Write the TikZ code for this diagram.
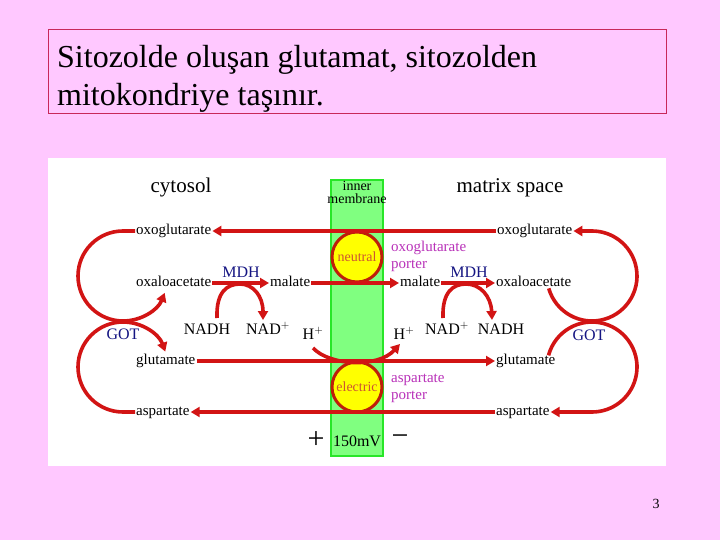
\documentclass[tikz,border=0pt]{standalone}
\usepackage{fontspec}
\setmainfont{Liberation Serif}
\usetikzlibrary{arrows.meta,calc}
\definecolor{bgpink}{RGB}{255,200,255}
\definecolor{boxborder}{RGB}{200,40,90}
\definecolor{redline}{RGB}{210,20,20}
\definecolor{circborder}{RGB}{190,30,10}
\definecolor{memfill}{RGB}{128,255,128}
\definecolor{memborder}{RGB}{40,230,40}
\definecolor{ylw}{RGB}{255,255,0}
\definecolor{porttext}{RGB}{185,50,185}
\definecolor{circtext}{RGB}{205,85,50}
\definecolor{enzyme}{RGB}{20,20,130}
\begin{document}
\begin{tikzpicture}[x=1pt,y=-1pt,
  lbl/.style={font=\fontsize{15}{17}\selectfont, inner xsep=1pt, inner ysep=0pt, text height=10.5pt, text depth=3.75pt},
  cof/.style={font=\fontsize{16}{18}\selectfont, inner sep=0pt},
  enz/.style={font=\fontsize{16}{18}\selectfont, inner sep=0pt, text=enzyme},
  head/.style={font=\fontsize{21}{24}\selectfont, inner sep=0pt},
  porter/.style={font=\fontsize{15}{17}\selectfont, inner sep=0pt, text=porttext, align=left, anchor=west},
  transporter/.style={circle, draw=circborder, fill=ylw, line width=3pt, minimum size=50pt, inner sep=0pt, font=\fontsize{14}{16}\selectfont, text=circtext},
  rl/.style={draw=redline, line width=3.6pt},
  tip/.style={-{Triangle[length=9pt,width=10pt]}}
]
\useasboundingbox (0,0) rectangle (720,540);
\fill[bgpink] (0,0) rectangle (720,540);
% title box
\draw[boxborder, line width=1pt, fill=bgpink] (48,30) rectangle (666,114);
\node[anchor=base west, inner sep=0pt, font=\fontsize{32}{38}\selectfont] (t1) at (57,68) {Sitozolde oluşan glutamat, sitozolden};
\node[anchor=base west, inner sep=0pt, font=\fontsize{32}{38}\selectfont] (t2) at (57,106) {mitokondriye taşınır.};
% white panel
\fill[white] (48,158) rectangle (666,466);
% membrane
\draw[memborder, line width=2.5pt, fill=memfill] (331,180) rectangle (383,456);
\node[font=\fontsize{14}{13}\selectfont, align=center, inner sep=0pt] (mem) at (357,192) {inner\\membrane};
\node[head] (cyt) at (181,187) {cytosol};
\node[head] (mat) at (510,188) {matrix space};
% transporters
\node[transporter] (neu) at (357,257) {neutral};
\node[transporter] (ele) at (357,387) {electric};
% metabolite labels
\node[lbl, anchor=west] (oxL) at (135,231) {oxoglutarate};
\node[lbl, anchor=west] (oxR) at (496,231) {oxoglutarate};
\node[lbl, anchor=west] (oaL) at (135,283) {oxaloacetate};
\node[lbl, anchor=west] (malL) at (269,283) {malate};
\node[lbl, anchor=west] (malR) at (399,283) {malate};
\node[lbl, anchor=west] (oaR) at (495,283) {oxaloacetate};
\node[lbl, anchor=west] (gluL) at (135,361) {glutamate};
\node[lbl, anchor=west] (gluR) at (495,361) {glutamate};
\node[lbl, anchor=west] (aspL) at (135,412) {aspartate};
\node[lbl, anchor=west] (aspR) at (495,412) {aspartate};
% enzymes and cofactors
\node[enz] (mdhL) at (241,272) {MDH};
\node[enz] (mdhR) at (469,272) {MDH};
\node[enz] (gotL) at (123,334) {GOT};
\node[enz] (gotR) at (589,335) {GOT};
\node[cof] (nadhL) at (207,329) {NADH};
\node[cof] (nadL) at (268,328) {NAD$^+$};
\node[cof] (hL) at (313,333) {H$^+$};
\node[cof] (hR) at (404,333) {H$^+$};
\node[cof] (nadR) at (447,328) {NAD$^+$};
\node[cof] (nadhR) at (501,329) {NADH};
% porter labels
\node[porter] (p1) at (391,256) {oxoglutarate\\porter};
\node[porter] (p2) at (391,388) {aspartate\\porter};
% potential
\node[inner sep=0pt, font=\fontsize{30}{30}\selectfont] (plus) at (316,440) {+};
\node[cof] (mv) at (357,441) {150mV};
\node[inner sep=0pt, font=\fontsize{30}{30}\selectfont] (minus) at (400,440) {−};
\node[inner sep=0pt, font=\fontsize{14}{16}\selectfont] (pg) at (656,504) {3};
% straight connectors
\draw[rl, tip] (oxR.west) -- (oxL.east);
\draw[rl, tip] (malL.east) -- (malR.west);
\draw[rl, tip] (gluL.east) -- (gluR.west);
\draw[rl, tip] (aspR.west) -- (aspL.east);
\draw[rl, tip] (oaL.east) -- (malL.west);
\draw[rl, tip] (malR.east) -- (oaR.west);
% MDH loops
\coordinate (m1a) at (217,318);
\coordinate (m1b) at (263,320);
\coordinate (m2a) at (443,318);
\coordinate (m2b) at (492,320);
\draw[rl, tip] (m1a) .. controls (216,292) and (227,284) .. (240,284) .. controls (253,284) and (263,296) .. (m1b);
\draw[rl, tip] (m2a) .. controls (442,292) and (453,284) .. (466,284) .. controls (480,284) and (491,296) .. (m2b);
% H+ transport
\coordinate (h1) at (313,348);
\coordinate (h2) at (400,344);
\draw[rl, tip] (h1) .. controls (330,366) and (378,368) .. (h2);
% GOT cycles cytosol
\draw[rl, tip] (oxL.west) -- (123,231) arc[start angle=270, end angle=22, radius=45];
\draw[rl, tip] (aspL.west) -- (123,412) arc[start angle=90, end angle=340, radius=45];
% GOT cycles matrix
\draw[rl, tip] ([shift={(164:45)}]592,276) arc[start angle=164, end angle=-90, radius=45] -- (oxR.east);
\draw[rl, tip] ([shift={(195:45)}]592,367) arc[start angle=195, end angle=450, radius=45] -- (aspR.east);
\end{tikzpicture}
\end{document}
